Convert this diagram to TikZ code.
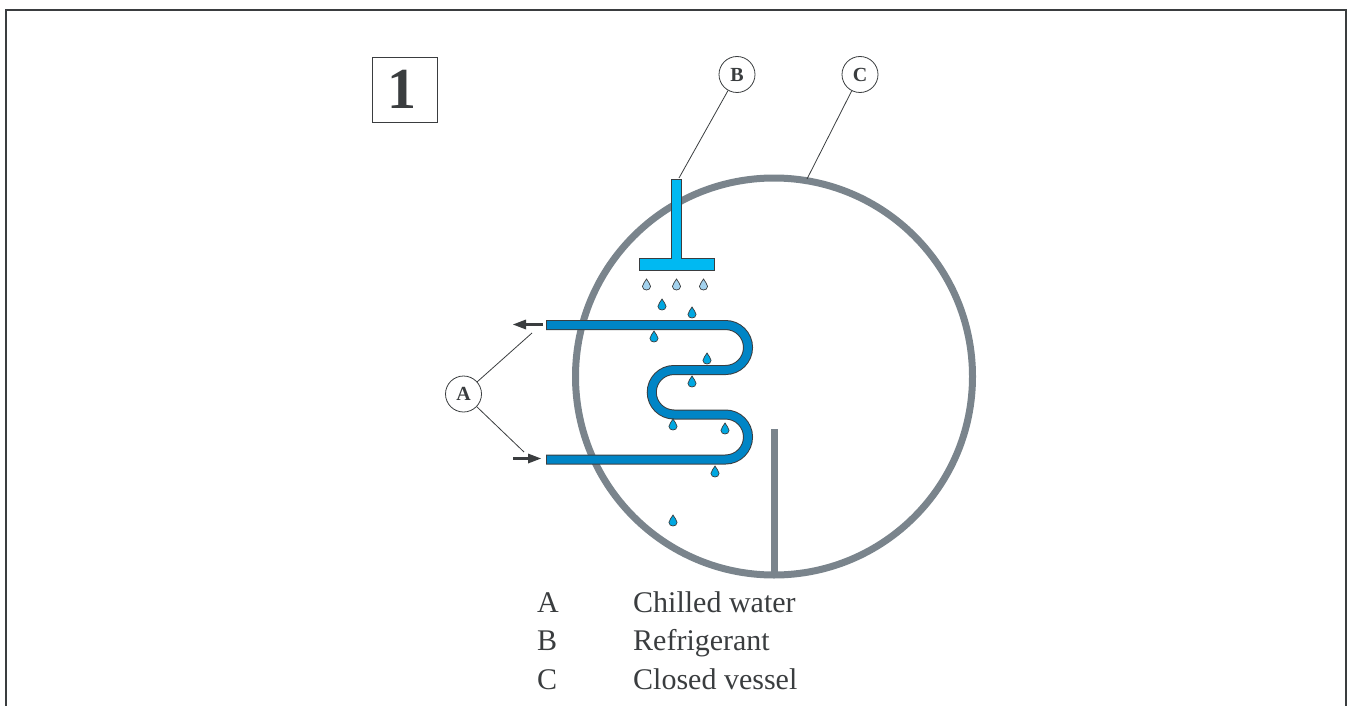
\documentclass[tikz,border=0pt]{standalone}
\usepackage{fontspec}
\setmainfont{Liberation Serif}
\definecolor{ink}{HTML}{3A3D3F}
\definecolor{vessel}{HTML}{7A848C}
\definecolor{pipeblue}{HTML}{0085C6}
\definecolor{headblue}{HTML}{00B9F2}
\definecolor{dropblue}{HTML}{00A7E1}
\definecolor{dropwater}{HTML}{A3D2EE}
\tikzset{
  callout/.style={circle,draw=ink,line width=0.8pt,fill=white,minimum size=36pt,inner sep=0pt,text=ink,font=\fontsize{20}{22}\selectfont\bfseries},
  leader/.style={draw=ink,line width=0.8pt},
  flowarrow/.style={draw=ink,line width=2.4pt},
  legendtext/.style={anchor=base west,text=ink,inner sep=0pt,font=\fontsize{30}{32}\selectfont},
  pics/waterdrop/.style={code={
    \path[draw=ink,line width=0.7pt,fill=#1] (0,-6) .. controls (1,-3) and (4.1,-1.5) .. (4.1,1.4)
      .. controls (4.1,3.6) and (2.1,5) .. (0,5) .. controls (-2.1,5) and (-4.1,3.6) .. (-4.1,1.4)
      .. controls (-4.1,-1.5) and (-1,-3) .. (0,-6) -- cycle;
  }}
}
\begin{document}
\begin{tikzpicture}[x=1pt,y=-1pt]
\useasboundingbox (0,0) rectangle (1348,706);
% frame
\draw[ink,line width=2pt] (6,706) -- (6,10) -- (1346,10) -- (1346,706);
% number box
\node[draw=ink,line width=1pt,minimum size=65pt,inner sep=0pt] (num) at (405,90) {};
\node[text=ink,inner sep=0pt,font=\fontsize{58}{60}\selectfont\bfseries] (numtext) at (402,89.5) {1};
% vessel
\draw[vessel,line width=7pt] (774,376.5) circle (198.5);
\draw[vessel,line width=7pt] (774.5,429) -- (774.5,577);
% refrigerant header
\path[draw=ink,line width=1pt,fill=headblue] (671.5,179.5) -- (681.5,179.5) -- (681.5,258) -- (714,258) -- (714,270.5) -- (639.5,270.5) -- (639.5,258) -- (671.5,258) -- cycle;
% chilled water coil
\def\coilpath#1{(#1,325) -- (725.5,325) arc (-90:90:22.5) -- (674,370) arc (270:90:22.25) -- (725.5,414.5) arc (-90:90:22.5) -- (#1,459.5)}
\draw[ink,line width=10pt] \coilpath{546};
\draw[pipeblue,line width=8pt] \coilpath{547};
% drops
\foreach \x/\y in {646.5/285,676.5/285,703.5/285} \pic at (\x,\y) {waterdrop=dropwater};
\foreach \x/\y in {662/305,692/313,654/337,707/359,692/382,673/425,725/429,715/472,673/521} \pic at (\x,\y) {waterdrop=dropblue};
% flow arrows
\coordinate (outS) at (543,324.5);
\coordinate (inS) at (513,458.5);
\draw[flowarrow] (outS) -- (525,324.5);
\fill[ink] (513,324.5) -- (526,319.5) -- (526,329.5) -- cycle;
\draw[flowarrow] (inS) -- (530,458.5);
\fill[ink] (541,458.5) -- (528,453.5) -- (528,463.5) -- cycle;
% callouts
\node[callout] (A) at (463.5,394) {A};
\node[callout] (B) at (737,74.5) {B};
\node[callout] (C) at (860,74.5) {C};
\coordinate (Aup) at (532,333);
\coordinate (Adown) at (524,452);
\coordinate (Bend) at (679,178);
\coordinate (Cend) at (807,179);
\draw[leader] (A) -- (Aup);
\draw[leader] (A) -- (Adown);
\draw[leader] (B) -- (Bend);
\draw[leader] (C) -- (Cend);
% legend
\node[legendtext] (k1) at (537,612) {A};
\node[legendtext] (v1) at (633,612) {Chilled water};
\node[legendtext] (k2) at (537,650) {B};
\node[legendtext] (v2) at (633,650) {Refrigerant};
\node[legendtext] (k3) at (537,689) {C};
\node[legendtext] (v3) at (633,689) {Closed vessel};
\end{tikzpicture}
\end{document}
